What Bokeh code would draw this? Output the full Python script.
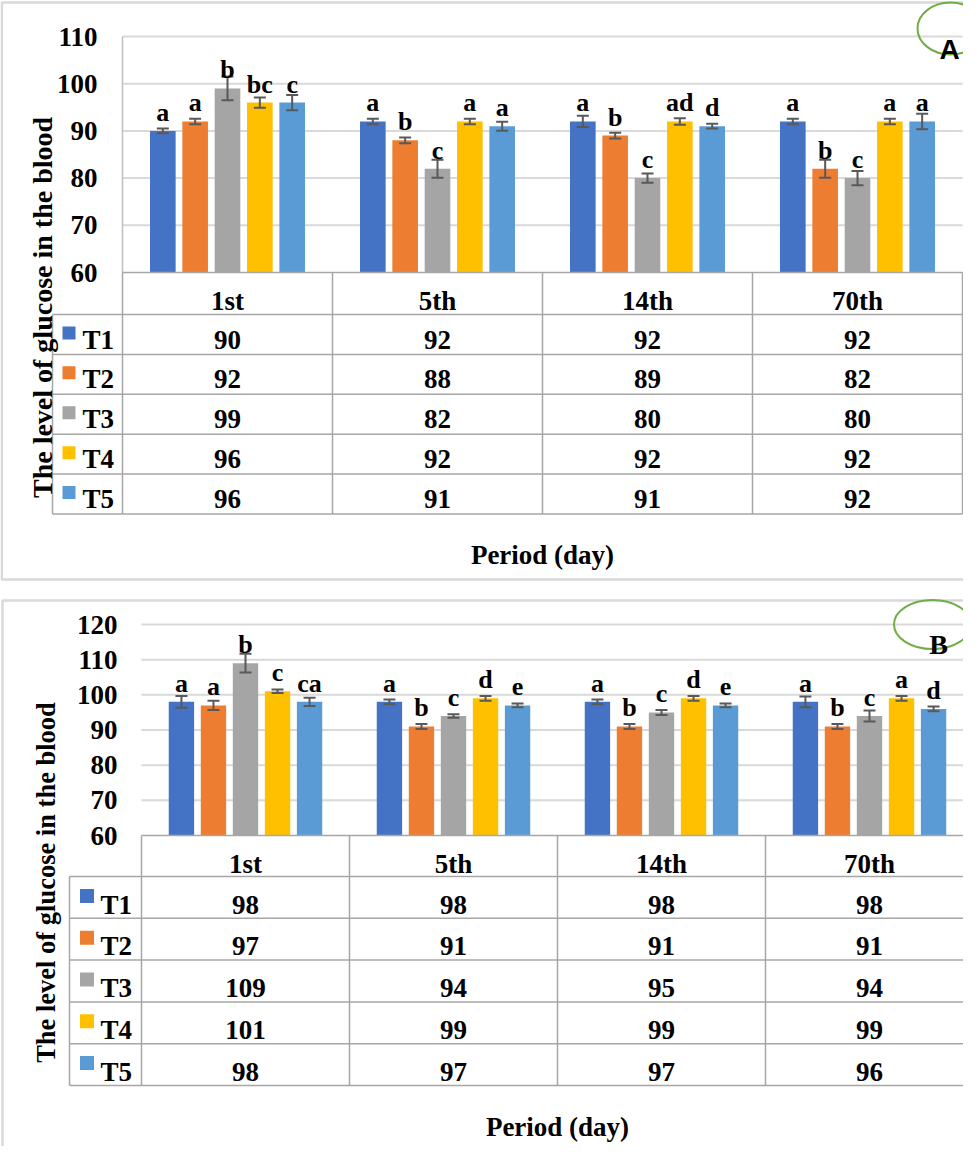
from bokeh.plotting import figure
from bokeh.models import LinearAxis, FixedTicker, Range1d
from bokeh.layouts import column
from bokeh.embed import file_html
from bokeh.resources import INLINE
from bokeh.core.properties import value

# ---------------- data ----------------
periods = ["1st", "5th", "14th", "70th"]
treatments = ["T1", "T2", "T3", "T4", "T5"]
colors = ["#4472C4", "#ED7D31", "#A5A5A5", "#FFC000", "#5B9BD5"]

# Panel A
a_T1 = [90, 92, 92, 92]
a_T2 = [92, 88, 89, 82]
a_T3 = [99, 82, 80, 80]
a_T4 = [96, 92, 92, 92]
a_T5 = [96, 91, 91, 92]
a_T1_err = [0.5, 0.6, 1.2, 0.6]
a_T2_err = [0.6, 0.6, 0.6, 1.9]
a_T3_err = [2.5, 1.9, 1.0, 1.5]
a_T4_err = [1.1, 0.6, 0.7, 0.6]
a_T5_err = [1.6, 0.95, 0.5, 1.65]
a_T1_sig = ["a", "a", "a", "a"]
a_T2_sig = ["a", "b", "b", "b"]
a_T3_sig = ["b", "c", "c", "c"]
a_T4_sig = ["bc", "a", "ad", "a"]
a_T5_sig = ["c", "a", "d", "a"]
a_ticks = [60, 70, 80, 90, 100, 110]

# Panel B
b_T1 = [98, 98, 98, 98]
b_T2 = [97, 91, 91, 91]
b_T3 = [109, 94, 95, 94]
b_T4 = [101, 99, 99, 99]
b_T5 = [98, 97, 97, 96]
b_T1_err = [1.65, 0.65, 0.7, 1.5]
b_T2_err = [1.3, 0.7, 0.7, 0.7]
b_T3_err = [2.65, 0.5, 0.7, 1.55]
b_T4_err = [0.5, 0.7, 0.7, 0.7]
b_T5_err = [1.2, 0.55, 0.55, 0.7]
b_T1_sig = ["a", "a", "a", "a"]
b_T2_sig = ["a", "b", "b", "b"]
b_T3_sig = ["b", "c", "c", "c"]
b_T4_sig = ["c", "d", "d", "a"]
b_T5_sig = ["ca", "e", "e", "d"]
b_ticks = [60, 70, 80, 90, 100, 110, 120]

y_title = "The level of glucose in the blood"
x_title = "Period (day)"

# ---------------- layout (pixels on each canvas) ----------------
LA = dict(W=963, H=592, plot_left=122, cw=210, y_min_px=272, y_max_px=36,
          hdr_bottom=314, row_h=39.9, hdr_base=28, row_base=25,
          leg_left=52, sq_x=68.5, sq_size=13, lab_x=82,
          tick_standoff=25, label_standoff=-4, label_center=307, label_size="28px",
          border=(1.25, 2, 579), xlabel_base=554,
          circle=(950, 28, 66, 52), tag="A", tag_xy=(949, 49), tag_font="Liberation Sans",
          left_border=True)
LB = dict(W=963, H=554, plot_left=141, cw=208, y_min_px=243, y_max_px=32,
          hdr_bottom=284, row_h=41.8, hdr_base=28, row_base=28,
          leg_left=69, sq_x=86.5, sq_size=14, lab_x=100,
          tick_standoff=24, label_standoff=13, label_center=290, label_size="26.5px",
          border=(2, 8, 700), xlabel_base=534,
          circle=(932, 32, 77, 49), tag="B", tag_xy=(938, 52), tag_font="Liberation Serif",
          left_border=False)

FONT = value("Liberation Serif")
FS = "27px"
STEP = 0.154
BAR_W = 0.122
GRID_C = "#d9d9d9"
TABLE_C = "#a6a6a6"
ERR_C = "#595959"


def build_panel(means, errs, sigs, ticks, L):
    W, H, cw, x0px = L["W"], L["H"], L["cw"], L["plot_left"]
    ymin, ymax = ticks[0], ticks[-1]
    ppu = (L["y_min_px"] - L["y_max_px"]) / (ymax - ymin)
    n = len(periods)

    def X(px):
        return (px - x0px) / cw

    def Y(py):
        return ymin + (L["y_min_px"] - py) / ppu

    p = figure(width=W, height=H, x_range=Range1d(X(0), X(W)), y_range=Range1d(Y(H), Y(0)),
               x_axis_type=None, y_axis_type=None, toolbar_location=None,
               output_backend="svg", min_border=0, outline_line_color=None,
               background_fill_color="white", border_fill_color="white")

    txt = dict(text_font=FONT, text_font_style="bold", text_font_size=FS, text_color="black")

    # panel border
    bl, bt, bb = L["border"]
    p.quad(left=[X(bl)], right=[X(W + 40)], top=[Y(bt)], bottom=[Y(bb)],
           fill_color=None, line_color=GRID_C, line_width=2.5)

    # gridlines
    gl = ticks[1:]
    p.segment(x0=[0] * len(gl), x1=[n] * len(gl), y0=gl, y1=gl,
              line_color=GRID_C, line_width=2)
    if L["left_border"]:
        p.segment(x0=[0], x1=[0], y0=[ymin], y1=[ymax], line_color="#bfbfbf", line_width=1.5)

    # bars, error bars, significance letters
    cap = 12 / cw
    for j, t in enumerate(treatments):
        xs = [i + 0.5 + (j - 2) * STEP for i in range(n)]
        m = means[j]
        e = errs[j]
        p.vbar(x=xs, top=m, bottom=ymin, width=BAR_W, fill_color=colors[j], line_color=None)
        lo = [a - b for a, b in zip(m, e)]
        hi = [a + b for a, b in zip(m, e)]
        p.segment(x0=xs, x1=xs, y0=lo, y1=hi, line_color=ERR_C, line_width=2)
        p.segment(x0=[x - cap / 2 for x in xs], x1=[x + cap / 2 for x in xs], y0=hi, y1=hi,
                  line_color=ERR_C, line_width=2)
        p.segment(x0=[x - cap / 2 for x in xs], x1=[x + cap / 2 for x in xs], y0=lo, y1=lo,
                  line_color=ERR_C, line_width=2)
        p.text(x=xs, y=[v + 18.5 / ppu for v in m], text=sigs[j], text_align="center",
               text_baseline="alphabetic", text_font=FONT, text_font_style="bold",
               text_font_size="26px", text_color="black")

    # data table
    rows_px = [L["hdr_bottom"] + k * L["row_h"] for k in range(len(treatments) + 1)]
    xl = X(L["leg_left"])
    hy = [Y(r) for r in rows_px]
    p.segment(x0=[0] + [xl] * len(hy), x1=[n] * (len(hy) + 1), y0=[ymin] + hy, y1=[ymin] + hy,
              line_color=TABLE_C, line_width=1.5)
    vx = list(range(n + 1))
    p.segment(x0=vx + [xl], x1=vx + [xl], y0=[ymin] * len(vx) + [hy[0]],
              y1=[hy[-1]] * (len(vx) + 1), line_color=TABLE_C, line_width=1.5)

    hdr_b = Y(L["y_min_px"] + L["hdr_base"])
    p.text(x=[i + 0.5 for i in range(n)], y=[hdr_b] * n, text=periods, text_align="center",
           text_baseline="alphabetic", **txt)
    row_b = [Y(rows_px[k] + L["row_base"]) for k in range(len(treatments))]
    row_c = [Y(rows_px[k] + L["row_h"] / 2 - 1.5) for k in range(len(treatments))]
    for j, t in enumerate(treatments):
        p.text(x=[i + 0.5 for i in range(n)], y=[row_b[j]] * n, text=[str(v) for v in means[j]],
               text_align="center", text_baseline="alphabetic", **txt)
    p.scatter(x=[X(L["sq_x"])] * len(treatments), y=row_c, marker="square", size=L["sq_size"],
              fill_color=colors, line_color=None)
    p.text(x=[X(L["lab_x"])] * len(treatments), y=row_b, text=treatments, text_align="left",
           text_baseline="alphabetic", **txt)

    # x title
    p.text(x=[n / 2], y=[Y(L["xlabel_base"])], text=[x_title], text_align="center",
           text_baseline="alphabetic", **txt)

    # panel tag with circle
    cx, cy, cwid, chei = L["circle"]
    p.ellipse(x=[X(cx)], y=[Y(cy)], width=cwid, height=chei, width_units="screen",
              height_units="screen", fill_color=None, line_color="#70AD47", line_width=2)
    tx, ty = L["tag_xy"]
    p.text(x=[X(tx)], y=[Y(ty)], text=[L["tag"]], text_align="center", text_baseline="alphabetic",
           text_font=value(L["tag_font"]), text_font_style="bold", text_font_size="28px",
           text_color="black")

    # y axis (fixed at the left edge of the plot area)
    lc = L["label_center"]
    ax = LinearAxis(ticker=FixedTicker(ticks=ticks), fixed_location=0, axis_label=y_title,
                    bounds=(Y(2 * lc - L["y_max_px"]), ymax))
    ax.axis_line_color = None
    ax.major_tick_line_color = None
    ax.minor_tick_line_color = None
    ax.major_tick_out = 0
    ax.major_tick_in = 0
    ax.minor_tick_out = 0
    ax.major_label_standoff = L["tick_standoff"]
    ax.major_label_text_font = "Liberation Serif"
    ax.major_label_text_font_style = "bold"
    ax.major_label_text_font_size = "27px"
    ax.major_label_text_color = "black"
    ax.axis_label_standoff = L["label_standoff"]
    ax.axis_label_text_font = "Liberation Serif"
    ax.axis_label_text_font_style = "bold"
    ax.axis_label_text_font_size = L["label_size"]
    ax.axis_label_text_color = "black"
    p.add_layout(ax, "left")
    return p


pA = build_panel([a_T1, a_T2, a_T3, a_T4, a_T5],
                 [a_T1_err, a_T2_err, a_T3_err, a_T4_err, a_T5_err],
                 [a_T1_sig, a_T2_sig, a_T3_sig, a_T4_sig, a_T5_sig], a_ticks, LA)
pB = build_panel([b_T1, b_T2, b_T3, b_T4, b_T5],
                 [b_T1_err, b_T2_err, b_T3_err, b_T4_err, b_T5_err],
                 [b_T1_sig, b_T2_sig, b_T3_sig, b_T4_sig, b_T5_sig], b_ticks, LB)

page = column(pA, pB, spacing=0)
open("out.html", "w").write(file_html(page, INLINE))
